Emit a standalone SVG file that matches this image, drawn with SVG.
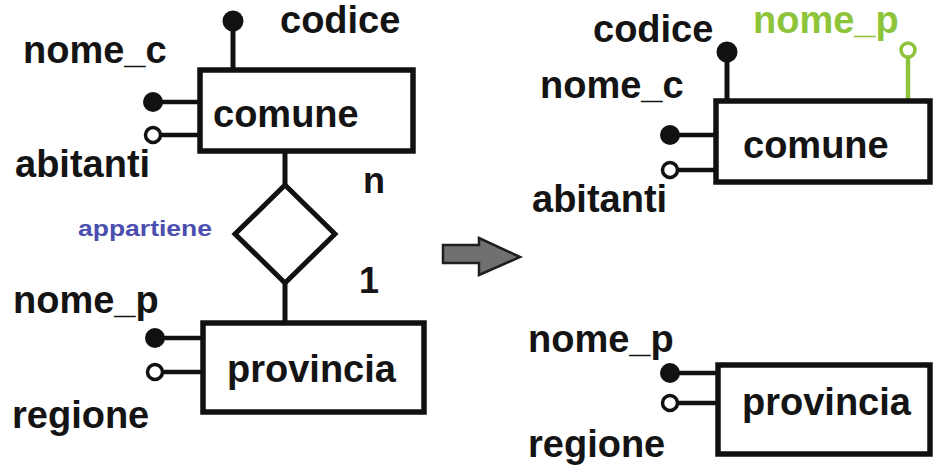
<svg xmlns="http://www.w3.org/2000/svg" width="934" height="472" viewBox="0 0 934 472">
  <style>
    .lbl { font-family: "Liberation Sans", Arial, sans-serif; font-weight: bold; font-size: 38px; fill: #141414; }
    .card { font-family: "Liberation Sans", Arial, sans-serif; font-weight: bold; font-size: 36px; fill: #141414; }
    .rel { font-family: "Liberation Sans", Arial, sans-serif; font-weight: bold; font-size: 22px; fill: #4b4fb0; }
    .green { fill: #8dc43a; }
    .box { fill: #ffffff; stroke: #111111; stroke-width: 5.5; }
    .link { stroke: #111111; stroke-width: 5; fill: none; }
    .attr { stroke: #111111; stroke-width: 4.5; fill: none; }
    .key { fill: #111111; }
    .opt { fill: #ffffff; stroke: #111111; stroke-width: 3.5; }
    .gattr { stroke: #8dc43a; stroke-width: 4.5; fill: none; }
    .gopt { fill: #ffffff; stroke: #8dc43a; stroke-width: 3.5; }
  </style>
  <rect width="934" height="472" fill="#ffffff"/>

  <!-- connectors: relationship lines and attribute stubs -->
  <g id="connectors">
    <line class="link" x1="285" y1="151" x2="285" y2="185"/>
    <line class="link" x1="285" y1="283" x2="285" y2="323"/>
    <!-- left comune attributes -->
    <line class="link" x1="233" y1="22" x2="233" y2="70"/>
    <line class="attr" x1="153" y1="102" x2="200" y2="102"/>
    <line class="attr" x1="160" y1="135" x2="200" y2="135"/>
    <!-- left provincia attributes -->
    <line class="attr" x1="155" y1="338" x2="203" y2="338"/>
    <line class="attr" x1="162" y1="372" x2="203" y2="372"/>
    <!-- right comune attributes -->
    <line class="link" x1="727" y1="52" x2="727" y2="101"/>
    <line class="gattr" x1="908" y1="57" x2="908" y2="101"/>
    <line class="attr" x1="670" y1="135" x2="716" y2="135"/>
    <line class="attr" x1="677" y1="170" x2="716" y2="170"/>
    <!-- right provincia attributes -->
    <line class="attr" x1="670" y1="373" x2="718" y2="373"/>
    <line class="attr" x1="677" y1="403" x2="718" y2="403"/>
  </g>

  <!-- left schema -->
  <g id="comune-left">
    <rect class="box" x="200" y="70" width="213" height="81"/>
    <text class="lbl" x="213" y="127">comune</text>
  </g>
  <g id="codice-left">
    <circle class="key" cx="233" cy="21" r="10.5"/>
    <text class="lbl" x="280" y="33">codice</text>
  </g>
  <g id="nome_c-left">
    <circle class="key" cx="153" cy="102" r="10"/>
    <text class="lbl" x="23" y="63">nome_c</text>
  </g>
  <g id="abitanti-left">
    <circle class="opt" cx="153" cy="135" r="7.5"/>
    <text class="lbl" x="15" y="177">abitanti</text>
  </g>
  <g id="appartiene">
    <polygon points="285,185 335,234 285,283 235,234" fill="#ffffff" stroke="#111111" stroke-width="5"/>
    <text class="rel" x="78" y="236" textLength="134" lengthAdjust="spacingAndGlyphs">appartiene</text>
    <text class="card" x="363" y="193">n</text>
    <text class="card" x="359" y="293">1</text>
  </g>
  <g id="provincia-left">
    <rect class="box" x="203" y="323" width="221" height="89"/>
    <text class="lbl" x="227" y="382">provincia</text>
  </g>
  <g id="nome_p-left">
    <circle class="key" cx="155" cy="338" r="10"/>
    <text class="lbl" x="13" y="313">nome_p</text>
  </g>
  <g id="regione-left">
    <circle class="opt" cx="155" cy="372" r="7.5"/>
    <text class="lbl" x="12" y="428">regione</text>
  </g>

  <!-- transformation arrow -->
  <g id="arrow">
    <polygon points="443,245 479,245 479,238 520,257 479,275 479,263 443,263" fill="#707070" stroke="#1e1e1e" stroke-width="2.5" stroke-linejoin="miter"/>
  </g>

  <!-- right schema -->
  <g id="comune-right">
    <rect class="box" x="716" y="101" width="214" height="81"/>
    <text class="lbl" x="743" y="158">comune</text>
  </g>
  <g id="codice-right">
    <circle class="key" cx="727" cy="52" r="10.5"/>
    <text class="lbl" x="593" y="42">codice</text>
  </g>
  <g id="nome_p-fk">
    <circle class="gopt" cx="908" cy="50" r="7"/>
    <text class="lbl green" x="753" y="33">nome_p</text>
  </g>
  <g id="nome_c-right">
    <circle class="key" cx="670" cy="135" r="10"/>
    <text class="lbl" x="540" y="98">nome_c</text>
  </g>
  <g id="abitanti-right">
    <circle class="opt" cx="670" cy="170" r="7.5"/>
    <text class="lbl" x="532" y="212">abitanti</text>
  </g>
  <g id="provincia-right">
    <rect class="box" x="718" y="365" width="212" height="89"/>
    <text class="lbl" x="742" y="415">provincia</text>
  </g>
  <g id="nome_p-right">
    <circle class="key" cx="670" cy="373" r="10"/>
    <text class="lbl" x="528" y="352">nome_p</text>
  </g>
  <g id="regione-right">
    <circle class="opt" cx="670" cy="403" r="7.5"/>
    <text class="lbl" x="528" y="457">regione</text>
  </g>
</svg>
